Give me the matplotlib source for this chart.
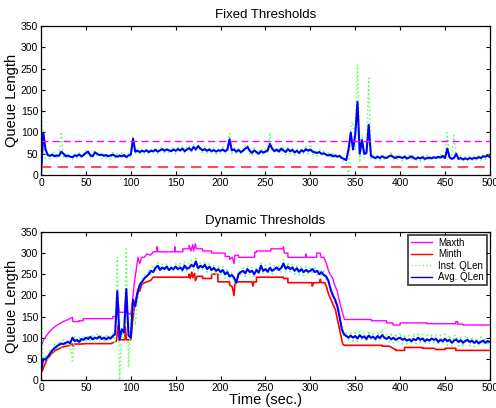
import numpy as np
import matplotlib
matplotlib.use("Agg")
import matplotlib.pyplot as plt

plt.rcParams['font.family'] = ['Liberation Sans', 'DejaVu Sans']

# common 2.5 s sampling grid for queue traces
t_grid = np.arange(0, 500.1, 2.5)

# ---- Fixed thresholds panel ----
fixed_maxth = 80
fixed_minth = 20

fixed_avg = [
    0, 100, 60, 47, 45, 48, 44, 46, 45, 55, 50, 44, 46, 43, 42, 46, 45, 48, 44, 47,
    52, 55, 46, 44, 53, 50, 47, 48, 45, 47, 44, 46, 48, 45, 43, 46, 44, 47, 42, 46,
    48, 85, 55, 57, 54, 57, 55, 58, 54, 57, 56, 59, 55, 58, 61, 57, 60, 58, 56, 60,
    57, 61, 58, 62, 56, 60, 63, 58, 66, 60, 68, 62, 58, 61, 57, 60, 56, 59, 55, 58,
    57, 60, 56, 59, 84, 58, 60, 55, 59, 54, 57, 62, 66, 57, 52, 58, 54, 50, 56, 53,
    55, 58, 73, 62, 56, 60, 55, 62, 58, 54, 61, 56, 59, 53, 57, 52, 58, 55, 61, 57,
    60, 55, 53, 52, 54, 50, 51, 48, 46, 48, 44, 46, 43, 45, 40, 38, 35, 60, 100, 60,
    95, 172, 50, 82, 50, 52, 118, 45, 42, 40, 43, 40, 44, 41, 40, 44, 46, 42, 40, 43,
    42, 40, 43, 39, 41, 44, 40, 38, 41, 39, 42, 38, 40, 41, 39, 42, 40, 43, 41, 45,
    40, 62, 42, 38, 40, 50, 38, 40, 37, 39, 37, 40, 38, 40, 39, 42, 40, 44, 43, 46, 42,
]

fixed_inst = [
    185, 60, 40, 52, 38, 50, 55, 40, 48, 97, 42, 50, 38, 48, 36, 52, 40, 55, 38, 50,
    58, 48, 40, 52, 60, 42, 50, 38, 52, 40, 48, 36, 55, 40, 50, 38, 52, 40, 48, 50,
    42, 92, 50, 62, 48, 63, 50, 64, 48, 62, 52, 65, 50, 63, 67, 52, 66, 50, 62, 66,
    50, 66, 52, 68, 50, 66, 70, 52, 72, 55, 73, 56, 52, 67, 50, 66, 50, 65, 48, 64,
    50, 66, 50, 65, 97, 50, 66, 48, 65, 47, 62, 70, 72, 50, 45, 64, 47, 57, 62, 46,
    61, 50, 100, 55, 62, 52, 62, 54, 65, 47, 67, 50, 65, 46, 63, 46, 64, 49, 67, 50,
    82, 48, 60, 45, 60, 44, 57, 42, 52, 42, 50, 40, 49, 38, 46, 32, 28, 0, 120, 125,
    60, 260, 30, 95, 40, 58, 228, 38, 48, 34, 49, 35, 50, 35, 46, 38, 52, 36, 46, 37,
    48, 34, 49, 33, 47, 38, 46, 32, 47, 33, 48, 32, 46, 35, 45, 36, 46, 37, 48, 38,
    46, 100, 36, 45, 93, 44, 32, 46, 31, 45, 32, 46, 33, 47, 34, 48, 35, 50, 37, 52, 45,
]

# ---- Dynamic thresholds panel ----
dyn_avg = [
    20, 50, 48, 55, 62, 70, 75, 80, 83, 86, 85, 88, 90, 87, 100, 92, 95, 90, 97, 95,
    100, 97, 102, 96, 100, 98, 103, 97, 100, 96, 101, 98, 104, 108, 210, 95, 120, 112, 215, 105,
    100, 190, 175, 205, 225, 232, 240, 245, 250, 258, 255, 265, 270, 260, 266, 262, 268, 260, 265, 262,
    268, 262, 266, 260, 270, 263, 265, 272, 268, 280, 264, 270, 266, 272, 262, 268, 260, 265, 258, 262,
    255, 260, 250, 255, 245, 248, 242, 230, 250, 255, 258, 252, 262, 255, 258, 250, 260, 254, 270, 258,
    262, 256, 265, 258, 262, 266, 260, 265, 275, 263, 268, 262, 266, 258, 264, 256, 262, 255, 260, 256,
    258, 262, 255, 258, 250, 255, 248, 245, 235, 215, 200, 190, 175, 150, 120, 108, 104, 100, 105, 100,
    104, 98, 106, 100, 103, 97, 105, 100, 102, 97, 104, 99, 106, 100, 97, 102, 96, 100, 95, 98,
    100, 95, 98, 93, 96, 92, 97, 94, 100, 95, 98, 92, 96, 93, 98, 95, 97, 90, 95, 92,
    97, 92, 95, 88, 93, 96, 90, 94, 88, 92, 95, 90, 93, 88, 92, 87, 90, 93, 88, 92, 90,
]

dyn_inst = [
    190, 40, 55, 45, 70, 60, 85, 72, 92, 78, 95, 80, 97, 82, 45, 102, 88, 100, 87, 105,
    92, 107, 90, 105, 88, 108, 92, 104, 90, 108, 91, 106, 110, 85, 290, 0, 110, 100, 310, 30,
    150, 180, 130, 190, 230, 225, 250, 240, 262, 250, 270, 258, 278, 262, 274, 260, 276, 255, 272, 258,
    275, 258, 277, 255, 280, 258, 276, 285, 260, 288, 258, 278, 260, 280, 255, 275, 250, 272, 248, 268,
    245, 268, 240, 262, 235, 255, 232, 222, 258, 248, 266, 245, 270, 248, 266, 242, 268, 248, 278, 250,
    272, 250, 275, 250, 272, 258, 270, 255, 285, 255, 278, 255, 275, 250, 272, 248, 270, 246, 268, 248,
    268, 250, 265, 248, 262, 245, 258, 238, 240, 210, 210, 180, 180, 150, 138, 105, 112, 95, 112, 92,
    115, 92, 118, 94, 112, 90, 116, 94, 112, 92, 115, 92, 120, 94, 108, 90, 112, 88, 110, 88,
    112, 86, 108, 85, 106, 84, 110, 86, 112, 85, 108, 84, 106, 86, 110, 85, 108, 82, 106, 84,
    108, 82, 106, 80, 104, 106, 80, 104, 78, 102, 104, 80, 102, 78, 100, 80, 102, 85, 100, 82, 95,
]

maxth_t = [0, 1, 3, 5, 8, 10, 13, 16, 20, 24, 28, 32, 35, 35.5, 42, 42, 47, 47, 80, 80,
           84, 85, 86, 87, 93, 94, 95, 100, 102, 104, 106, 108, 110, 112, 115, 118, 122, 125, 129, 129,
           130, 149, 149, 150, 158, 158, 165, 165, 167, 169, 170, 172, 173, 180, 180, 190, 190, 205, 205, 210,
           210, 213, 215, 216, 220, 220, 238, 238, 240, 240, 256, 256, 270, 270, 271, 275, 275, 295, 295, 296,
           307, 307, 311, 312, 315, 318, 320, 322, 325, 327, 330, 332, 335, 338, 368, 368, 385, 385, 392, 392,
           400, 400, 430, 430, 462, 462, 464, 464, 470, 470, 500]
maxth_v = [75, 85, 95, 102, 110, 115, 122, 127, 132, 137, 141, 145, 148, 138, 138, 140, 140, 145, 145, 150,
           150, 158, 185, 160, 160, 190, 160, 155, 190, 230, 260, 290, 275, 290, 290, 298, 295, 303, 303, 315,
           303, 303, 315, 303, 303, 310, 310, 318, 305, 320, 305, 322, 310, 310, 305, 305, 300, 300, 292, 292,
           285, 290, 275, 295, 295, 290, 290, 302, 302, 305, 305, 310, 310, 315, 300, 300, 290, 290, 298, 290,
           290, 300, 300, 290, 290, 275, 260, 250, 240, 225, 210, 190, 165, 143, 143, 140, 140, 135, 135, 130,
           130, 135, 135, 133, 133, 138, 138, 132, 132, 130, 130]

minth_t = [0, 2, 4, 6, 8, 10, 13, 16, 20, 24, 28, 32, 35, 36, 37, 45, 50, 78, 80, 84,
           86, 87, 93, 94, 95, 100, 102, 104, 106, 108, 110, 112, 115, 118, 122, 125, 165, 165, 166, 168,
           169, 171, 172, 174, 180, 180, 190, 190, 197, 197, 210, 210, 213, 215, 216, 220, 235, 236, 237, 240,
           240, 270, 270, 275, 275, 302, 302, 304, 310, 311, 312, 316, 318, 320, 322, 325, 328, 330, 333, 336,
           338, 380, 380, 388, 392, 395, 395, 405, 405, 425, 425, 438, 440, 450, 450, 462, 462, 500]
minth_v = [15, 25, 35, 45, 52, 58, 64, 70, 74, 78, 80, 82, 85, 80, 85, 85, 86, 86, 88, 92,
           130, 95, 95, 125, 95, 95, 140, 170, 195, 215, 210, 225, 230, 232, 235, 243, 243, 250, 240, 255,
           242, 252, 235, 245, 245, 240, 240, 250, 250, 232, 232, 225, 220, 200, 230, 232, 232, 222, 232, 232,
           243, 243, 240, 240, 230, 230, 222, 230, 230, 238, 230, 230, 220, 205, 195, 180, 165, 145, 115, 85,
           82, 82, 80, 80, 75, 72, 70, 70, 77, 77, 75, 75, 72, 72, 75, 75, 70, 70]

y_ticks = [0, 50, 100, 150, 200, 250, 300, 350]
x_ticks = [0, 50, 100, 150, 200, 250, 300, 350, 400, 450, 500]

c_max = '#ff00ff'
c_min = '#ff0000'
c_inst = '#66ff66'
c_avg = '#0000ff'

fig = plt.figure(figsize=(4.96, 4.08), dpi=100)
ax1 = fig.add_axes([0.0827, 0.571, 0.905, 0.365])
ax2 = fig.add_axes([0.0827, 0.0686, 0.905, 0.363])


def style_axis(ax):
    ax.set_xlim(0, 500)
    ax.set_ylim(0, 350)
    ax.set_xticks(x_ticks)
    ax.set_yticks(y_ticks)
    ax.tick_params(direction='in', top=True, right=True, labelsize=7.5,
                   length=3, width=0.8, pad=2)
    for s in ax.spines.values():
        s.set_linewidth(0.9)
    ax.set_ylabel('Queue Length', fontsize=10.5, labelpad=1)


# top panel
ax1.plot(t_grid, fixed_inst, color=c_inst, linestyle=':', linewidth=1.1)
ax1.plot(t_grid, fixed_avg, color=c_avg, linewidth=1.5)
ax1.axhline(fixed_maxth, color=c_max, linestyle=(0, (5, 3)), linewidth=1.0)
ax1.axhline(fixed_minth, color='#ff5050', linestyle=(0, (5, 3)), linewidth=1.5)
style_axis(ax1)
ax1.set_title('Fixed Thresholds', fontsize=9.5, pad=6)

# bottom panel
ax2.plot(maxth_t, maxth_v, color=c_max, linewidth=1.0, label='Maxth')
ax2.plot(minth_t, minth_v, color=c_min, linewidth=1.2, label='Minth')
ax2.plot(t_grid, dyn_inst, color=c_inst, linestyle=':', linewidth=1.1, label='Inst. QLen')
ax2.plot(t_grid, dyn_avg, color=c_avg, linewidth=1.5, label='Avg. QLen')
style_axis(ax2)
ax2.set_title('Dynamic Thresholds', fontsize=9.5, pad=6)
ax2.set_xlabel('Time (sec.)', fontsize=10.5, labelpad=0)
leg = ax2.legend(loc='upper right', fontsize=7, frameon=True, fancybox=False,
                 borderpad=0.3, labelspacing=0.15, handlelength=2.2,
                 handletextpad=0.6, borderaxespad=0.3)
leg.get_frame().set_edgecolor('black')
leg.get_frame().set_linewidth(1.2)
for line in leg.get_lines():
    line.set_linewidth(1.0)

fig.savefig('out.png', dpi=100)
